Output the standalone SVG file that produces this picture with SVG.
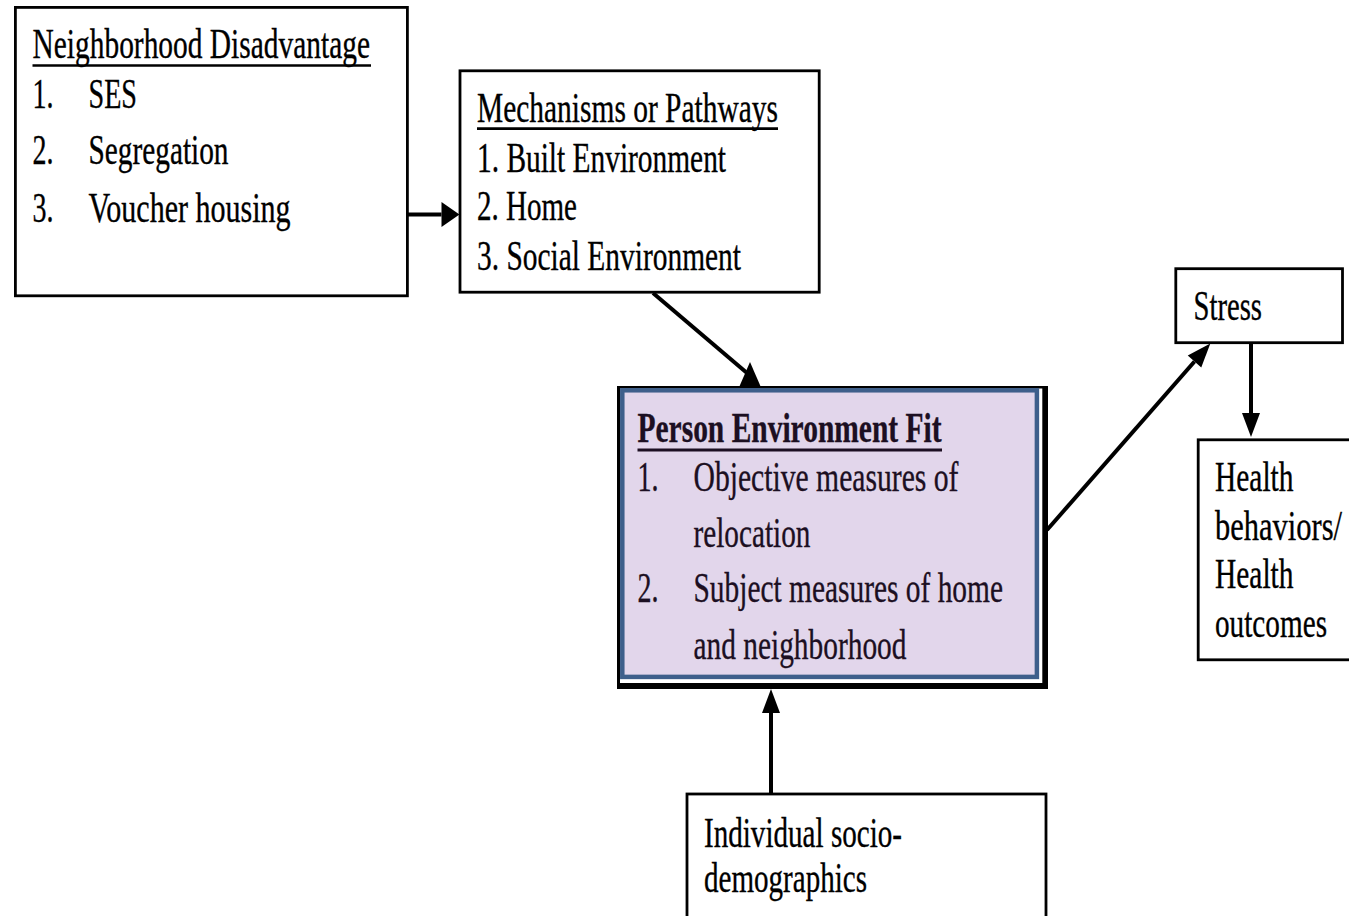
<svg xmlns="http://www.w3.org/2000/svg" width="1349" height="916" viewBox="0 0 1349 916">
  <style>
    .box { fill: #ffffff; stroke: #000000; stroke-width: 2.8; }
    .t { font-family: "Liberation Serif", "Times New Roman", serif; font-size: 42px; fill: #000000; stroke: #000000; stroke-width: 0.35; }
    .pt { font-family: "Liberation Serif", "Times New Roman", serif; font-size: 42px; fill: #1c0f22; stroke: #1c0f22; stroke-width: 0.35; }
    .b { font-weight: bold; }
    .ul { stroke: #000000; stroke-width: 2.6; }
    .link { fill: none; stroke: #000000; stroke-width: 4; }
  </style>
  <defs>
    <marker id="head" markerUnits="userSpaceOnUse" markerWidth="24" markerHeight="18" refX="0" refY="9" orient="auto" overflow="visible">
      <path d="M0,0 L24,9 L0,18 Z" fill="#000000"/>
    </marker>
    <marker id="headWide" markerUnits="userSpaceOnUse" markerWidth="18" markerHeight="25" refX="0" refY="12.5" orient="auto" overflow="visible">
      <path d="M0,0 L18,12.5 L0,25 Z" fill="#000000"/>
    </marker>
  </defs>

  <rect width="1349" height="916" fill="#ffffff"/>

  <!-- connectors (drawn first so the boxes sit on top of the line ends) -->
  <g id="connectors">
    <path class="link" d="M408,214.5 H441.5" marker-end="url(#headWide)"/>
    <path class="link" stroke-width="3.6" d="M653,293 L747,373"/>
    <polygon points="750,362 737,392 763,392" fill="#000000"/>
    <path class="link" stroke-width="3.6" d="M1047,530 L1194.5,361.5" marker-end="url(#head)"/>
    <path class="link" d="M1251,344 V413" marker-end="url(#head)"/>
    <path class="link" d="M771,794 V713" marker-end="url(#head)"/>
  </g>

  <g id="neighborhood-disadvantage">
    <rect class="box" x="15.4" y="7.4" width="392" height="288.4"/>
    <text class="t" x="32.5" y="58.3" textLength="337.5" lengthAdjust="spacingAndGlyphs">Neighborhood Disadvantage</text>
    <line class="ul" x1="32.5" y1="65.5" x2="371" y2="65.5"/>
    <text class="t" x="32.5" y="108" textLength="21" lengthAdjust="spacingAndGlyphs">1.</text>
    <text class="t" x="88.5" y="108" textLength="48.5" lengthAdjust="spacingAndGlyphs">SES</text>
    <text class="t" x="32.5" y="164" textLength="21" lengthAdjust="spacingAndGlyphs">2.</text>
    <text class="t" x="88.5" y="164" textLength="140" lengthAdjust="spacingAndGlyphs">Segregation</text>
    <text class="t" x="32.5" y="221.5" textLength="21" lengthAdjust="spacingAndGlyphs">3.</text>
    <text class="t" x="88.5" y="221.5" textLength="202" lengthAdjust="spacingAndGlyphs">Voucher housing</text>
  </g>

  <g id="mechanisms">
    <rect class="box" x="460" y="70.8" width="359.2" height="221.4"/>
    <text class="t" x="477" y="121.7" textLength="301" lengthAdjust="spacingAndGlyphs">Mechanisms or Pathways</text>
    <line class="ul" x1="477" y1="128.6" x2="778" y2="128.6"/>
    <text class="t" x="477" y="171.5" textLength="249" lengthAdjust="spacingAndGlyphs">1. Built Environment</text>
    <text class="t" x="477" y="220.3" textLength="100" lengthAdjust="spacingAndGlyphs">2. Home</text>
    <text class="t" x="477" y="269.5" textLength="264" lengthAdjust="spacingAndGlyphs">3. Social Environment</text>
  </g>

  <g id="person-environment-fit">
    <rect x="617" y="386" width="431" height="303" fill="#000000"/>
    <rect x="620" y="388.5" width="422.3" height="294.5" fill="#ffffff"/>
    <rect x="622.3" y="390.3" width="414.6" height="286.6" fill="#e2d6eb" stroke="#3e5f8b" stroke-width="4.5"/>
    <text class="pt b" x="637.5" y="441.7" textLength="304" lengthAdjust="spacingAndGlyphs">Person Environment Fit</text>
    <line x1="637.5" y1="450" x2="942" y2="450" stroke="#1c0f22" stroke-width="3.2"/>
    <text class="pt" x="637.5" y="490.5" textLength="21" lengthAdjust="spacingAndGlyphs">1.</text>
    <text class="pt" x="693.5" y="490.5" textLength="265" lengthAdjust="spacingAndGlyphs">Objective measures of</text>
    <text class="pt" x="693.5" y="547" textLength="117" lengthAdjust="spacingAndGlyphs">relocation</text>
    <text class="pt" x="637.5" y="602" textLength="21" lengthAdjust="spacingAndGlyphs">2.</text>
    <text class="pt" x="693.5" y="602" textLength="309.5" lengthAdjust="spacingAndGlyphs">Subject measures of home</text>
    <text class="pt" x="693.5" y="658.5" textLength="213" lengthAdjust="spacingAndGlyphs">and neighborhood</text>
  </g>

  <g id="stress">
    <rect class="box" x="1175.8" y="268.7" width="166.7" height="74"/>
    <text class="t" x="1193.5" y="320" textLength="68.5" lengthAdjust="spacingAndGlyphs">Stress</text>
  </g>

  <g id="health-outcomes">
    <rect class="box" x="1198.2" y="439.8" width="170" height="220"/>
    <text class="t" x="1215" y="490.7" textLength="78.5" lengthAdjust="spacingAndGlyphs">Health</text>
    <text class="t" x="1215" y="539.5" textLength="127" lengthAdjust="spacingAndGlyphs">behaviors/</text>
    <text class="t" x="1215" y="588.3" textLength="78.5" lengthAdjust="spacingAndGlyphs">Health</text>
    <text class="t" x="1215" y="637" textLength="112" lengthAdjust="spacingAndGlyphs">outcomes</text>
  </g>

  <g id="individual-sociodemographics">
    <rect class="box" x="687" y="794" width="359" height="140"/>
    <text class="t" x="704" y="846.7" textLength="198" lengthAdjust="spacingAndGlyphs">Individual socio-</text>
    <text class="t" x="704" y="892" textLength="163" lengthAdjust="spacingAndGlyphs">demographics</text>
  </g>
</svg>
